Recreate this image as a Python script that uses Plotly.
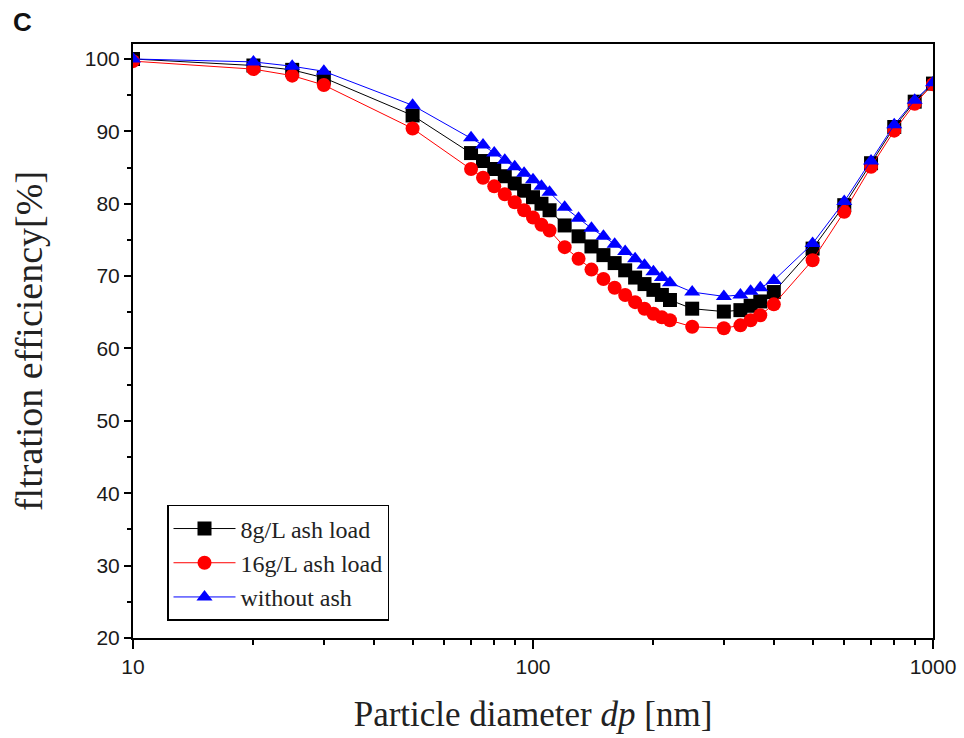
import plotly.graph_objects as go

dp = [10, 20, 25, 30, 50, 70, 75, 80, 85, 90, 95, 100, 105, 110,
      120, 130, 140, 150, 160, 170, 180, 190, 200, 210, 220,
      250, 300, 330, 350, 370, 400, 500, 600, 700, 800, 900, 1000]

eff_8g = [100.0, 99.1, 98.5, 97.4, 92.2, 87.0, 85.9, 84.8, 83.8, 82.8, 81.8, 80.9, 80.0, 79.1,
          77.0, 75.5, 74.1, 72.9, 71.8, 70.8, 69.8, 68.9, 68.1, 67.4, 66.7,
          65.5, 65.1, 65.3, 65.9, 66.5, 67.8, 73.8, 79.8, 85.6, 90.6, 94.1, 96.6]

eff_16g = [99.7, 98.6, 97.7, 96.4, 90.4, 84.8, 83.6, 82.4, 81.3, 80.2, 79.1, 78.1, 77.1, 76.3,
           74.0, 72.4, 70.9, 69.6, 68.4, 67.4, 66.4, 65.5, 64.8, 64.3, 63.9,
           63.0, 62.8, 63.2, 63.9, 64.6, 66.1, 72.2, 78.9, 85.1, 90.1, 93.8, 96.5]

eff_none = [100.0, 99.6, 99.0, 98.3, 93.6, 89.1, 88.1, 87.0, 86.0, 85.1, 84.2, 83.3, 82.4, 81.6,
            79.5, 78.0, 76.6, 75.5, 74.4, 73.4, 72.4, 71.5, 70.6, 69.8, 69.1,
            67.8, 67.2, 67.4, 67.9, 68.4, 69.4, 74.5, 80.3, 85.9, 90.9, 94.3, 96.7]

series = [
    ("8g/L ash load", eff_8g, "black", "square"),
    ("16g/L ash load", eff_16g, "red", "circle"),
    ("without ash", eff_none, "blue", "triangle-up"),
]

x_ticks = [10, 100, 1000]
x_minor = [20, 30, 40, 50, 60, 70, 80, 90, 200, 300, 400, 500, 600, 700, 800, 900]
y_ticks = [20, 30, 40, 50, 60, 70, 80, 90, 100]

fig = go.Figure()
for name, vals, col, sym in series:
    fig.add_trace(go.Scatter(
        x=dp, y=vals, name=name, mode="lines+markers",
        line=dict(color=col, width=1),
        marker=dict(symbol=sym, size=14, color=col, line=dict(width=0)),
    ))

axis_font = dict(family="Liberation Sans, Arial, sans-serif", size=21, color="#1a1a1a")
serif = "Liberation Serif, Times New Roman, serif"

fig.update_layout(
    width=964, height=738,
    margin=dict(l=133, r=31, t=44, b=100),
    paper_bgcolor="white", plot_bgcolor="white",
    showlegend=True,
    legend=dict(
        x=0.0425, y=0.224, xanchor="left", yanchor="top",
        bgcolor="white", bordercolor="black", borderwidth=1.5,
        font=dict(family=serif, size=24, color="#222"),
        tracegroupgap=0, itemwidth=62,
    ),
    xaxis=dict(
        type="log", range=[1, 3], automargin=False,
        tickvals=x_ticks, ticktext=[str(v) for v in x_ticks],
        ticks="outside", ticklen=9, tickwidth=1.5, tickcolor="black",
        minor=dict(ticks="outside", ticklen=5, tickwidth=1.5, tickcolor="black",
                   tickvals=x_minor),
        showline=True, linecolor="black", linewidth=2, mirror=True,
        showgrid=False, zeroline=False,
        tickfont=axis_font,
        title=dict(
            text="Particle diameter <i>dp</i> [nm]",
            font=dict(family=serif, size=35, color="#222"),
            standoff=24,
        ),
    ),
    yaxis=dict(
        range=[20, 102.07], automargin=False,
        tickvals=y_ticks,
        ticks="outside", ticklen=7, tickwidth=1.5, tickcolor="black",
        minor=dict(ticks="outside", ticklen=4, tickwidth=1.5, tickcolor="black", dtick=5),
        showline=True, linecolor="black", linewidth=2, mirror=True,
        showgrid=False, zeroline=False,
        tickfont=axis_font,
        title=dict(
            text="fltration efficiency[%]",
            font=dict(family=serif, size=38, color="#222"),
            standoff=30,
        ),
    ),
    annotations=[dict(
        text="<b>C</b>", xref="paper", yref="paper", x=-0.152, y=1.066,
        xanchor="left", yanchor="top", showarrow=False,
        font=dict(family="Liberation Sans, Arial, sans-serif", size=26, color="#111"),
    )],
)

fig.write_html("out.html")
